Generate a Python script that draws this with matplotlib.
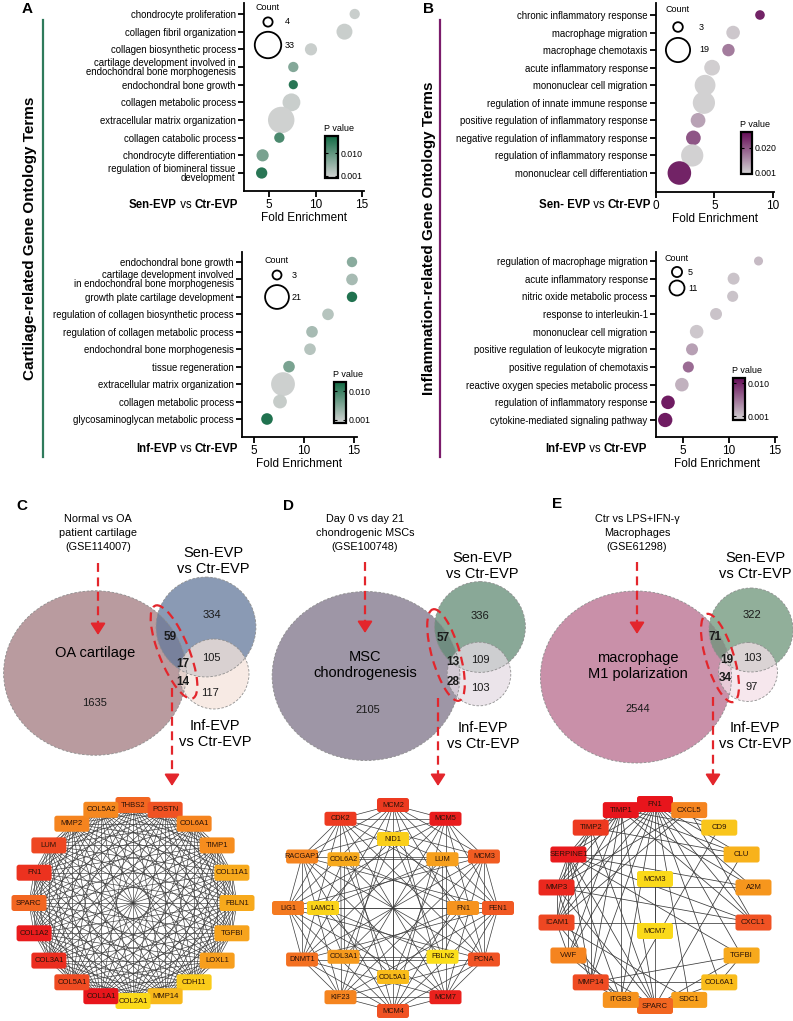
import itertools
import numpy as np
import matplotlib
matplotlib.use("Agg")
import matplotlib.pyplot as plt
from matplotlib.colors import LinearSegmentedColormap, Normalize
from matplotlib.cm import ScalarMappable
from matplotlib.patches import Ellipse, FancyBboxPatch
from matplotlib.collections import LineCollection

plt.rcParams["font.family"] = ["Liberation Sans", "DejaVu Sans"]

W, H = 793, 1021

# ---------------- GO enrichment (bubble) data ----------------
a_sen_terms = ["chondrocyte proliferation", "collagen fibril organization",
               "collagen biosynthetic process",
               "cartilage development involved in\nendochondral bone morphogenesis",
               "endochondral bone growth", "collagen metabolic process",
               "extracellular matrix organization", "collagen catabolic process",
               "chondrocyte differentiation",
               "regulation of biomineral tissue\ndevelopment"]
a_sen_fold = [14.2, 13.1, 9.5, 7.6, 7.6, 7.4, 6.3, 6.1, 4.3, 4.2]
a_sen_count = [5, 12, 7, 5, 4, 15, 33, 5, 7, 6]
a_sen_p = [0.001, 0.001, 0.001, 0.007, 0.015, 0.001, 0.0005, 0.012, 0.008, 0.015]
a_sen_key = [4, 33]

a_inf_terms = ["endochondral bone growth",
               "cartilage development involved\nin endochondral bone morphogenesis",
               "growth plate cartilage development",
               "regulation of collagen biosynthetic process",
               "regulation of collagen metabolic process",
               "endochondral bone morphogenesis", "tissue regeneration",
               "extracellular matrix organization", "collagen metabolic process",
               "glycosaminoglycan metabolic process"]
a_inf_fold = [14.8, 14.8, 14.8, 12.4, 10.8, 10.6, 8.5, 7.9, 7.6, 6.3]
a_inf_count = [4, 5, 4, 5, 5, 5, 5, 21, 7, 5]
a_inf_p = [0.005, 0.003, 0.012, 0.002, 0.003, 0.002, 0.006, 0.0005, 0.001, 0.012]
a_inf_key = [3, 21]

b_sen_terms = ["chronic inflammatory response", "macrophage migration",
               "macrophage chemotaxis", "acute inflammatory response",
               "mononuclear cell migration", "regulation of innate immune response",
               "positive regulation of inflammatory response",
               "negative regulation of inflammatory response",
               "regulation of inflammatory response", "mononuclear cell differentiation"]
b_sen_fold = [8.9, 6.6, 6.2, 4.8, 4.2, 4.1, 3.6, 3.2, 3.1, 2.0]
b_sen_count = [3, 6, 5, 8, 14, 16, 7, 7, 16, 18]
b_sen_p = [0.028, 0.002, 0.014, 0.001, 0.0005, 0.0005, 0.008, 0.02, 0.0005, 0.028]
b_sen_key = [3, 19]

b_inf_terms = ["regulation of macrophage migration", "acute inflammatory response",
               "nitric oxide metabolic process", "response to interleukin-1",
               "mononuclear cell migration", "positive regulation of leukocyte migration",
               "positive regulation of chemotaxis",
               "reactive oxygen species metabolic process",
               "regulation of inflammatory response", "cytokine-mediated signaling pathway"]
b_inf_fold = [13.2, 10.5, 10.4, 8.6, 6.5, 6.0, 5.6, 4.9, 3.4, 3.1]
b_inf_count = [4, 7, 6, 7, 9, 7, 6, 9, 9, 10]
b_inf_p = [0.0015, 0.001, 0.001, 0.001, 0.0008, 0.003, 0.006, 0.002, 0.0105, 0.0105]
b_inf_key = [5, 11]

# ---------------- Venn counts ----------------
# order: big only, Sen only, Inf only, big&Sen, Sen&Inf, big&Inf, all three
c_venn = [1635, 334, 117, 59, 105, 14, 17]
d_venn = [2105, 336, 103, 57, 109, 28, 13]
e_venn = [2544, 322, 97, 71, 103, 34, 19]

# ---------------- PPI networks ----------------
c_nodes = ["THBS2", "POSTN", "COL6A1", "TIMP1", "COL11A1", "FBLN1", "TGFBI", "LOXL1",
           "CDH11", "MMP14", "COL2A1", "COL1A1", "COL5A1", "COL3A1", "COL1A2", "SPARC",
           "FN1", "LUM", "MMP2", "COL5A2"]
c_score = [0.65, 0.75, 0.5, 0.45, 0.3, 0.3, 0.33, 0.36, 0.12, 0.22, 0.05, 1.0, 0.78,
           0.9, 0.97, 0.65, 0.88, 0.8, 0.5, 0.48]

d_outer = ["MCM2", "MCM5", "MCM3", "FEN1", "PCNA", "MCM7", "MCM4", "KIF23", "DNMT1",
           "LIG1", "RACGAP1", "CDK2"]
d_outer_score = [0.85, 0.97, 0.7, 0.72, 0.75, 0.95, 0.75, 0.5, 0.6, 0.55, 0.5, 0.85]
d_inner = ["NID1", "LUM", "FN1", "FBLN2", "COL5A1", "COL3A1", "LAMC1", "COL6A2"]
d_inner_score = [0.1, 0.35, 0.42, 0.02, 0.2, 0.38, 0.08, 0.3]

e_ring = ["FN1", "CXCL5", "CD9", "CLU", "A2M", "CXCL1", "TGFBI", "COL6A1", "SDC1",
          "SPARC", "ITGB3", "MMP14", "VWF", "ICAM1", "MMP3", "SERPINE1", "TIMP2", "TIMP1"]
e_ring_score = [1.0, 0.5, 0.15, 0.25, 0.4, 0.75, 0.3, 0.2, 0.35, 0.65, 0.42, 0.78,
                0.5, 0.8, 0.92, 0.98, 0.85, 1.0]
e_center = ["MCM3", "MCM7"]
e_center_score = [0.05, 0.05]
e_edges = [("FN1", n) for n in ["CXCL5", "TIMP1", "TIMP2", "SERPINE1", "MMP3", "ICAM1", "VWF",
                                "MMP14", "ITGB3", "SPARC", "SDC1", "COL6A1", "TGFBI",
                                "CXCL1", "A2M", "CLU", "CD9"]] + \
          [("TIMP1", n) for n in ["TIMP2", "SERPINE1", "MMP3", "ICAM1", "VWF", "MMP14",
                                  "ITGB3", "SPARC", "CXCL1", "A2M", "CLU", "CD9", "CXCL5"]] + \
          [("SERPINE1", n) for n in ["TIMP2", "MMP3", "ICAM1", "VWF", "MMP14", "ITGB3",
                                     "SPARC", "CXCL1", "A2M", "CLU", "TGFBI"]] + \
          [("MMP3", n) for n in ["TIMP2", "ICAM1", "MMP14", "CXCL1", "SPARC", "CXCL5", "A2M"]] + \
          [("TIMP2", n) for n in ["MMP14", "SPARC", "ICAM1", "CLU"]] + \
          [("ICAM1", n) for n in ["VWF", "ITGB3", "CXCL1", "CXCL5", "SDC1"]] + \
          [("MMP14", n) for n in ["ITGB3", "SPARC", "COL6A1", "TGFBI"]] + \
          [("VWF", "ITGB3"), ("VWF", "SPARC"), ("SPARC", "COL6A1"), ("SPARC", "TGFBI"),
           ("SPARC", "SDC1"), ("SPARC", "ITGB3"), ("SPARC", "CLU"), ("ITGB3", "SDC1"),
           ("ITGB3", "CD9"), ("CXCL1", "CXCL5"), ("TGFBI", "COL6A1"), ("MCM3", "MCM7")]

# ---------------- figure ----------------
fig = plt.figure(figsize=(W / 100, H / 100), dpi=100)
ov = fig.add_axes([0, 0, 1, 1])
ov.set_xlim(0, W)
ov.set_ylim(H, 0)
ov.axis("off")


def px_axes(l, t, r, b):
    return fig.add_axes([l / W, 1 - b / H, (r - l) / W, (b - t) / H])


green = LinearSegmentedColormap.from_list("gr", ["#d4d4d4", "#126a44"])
purple = LinearSegmentedColormap.from_list("pu", ["#d4d4d4", "#650b57"])


def bubble(box, rows_px, xlim, xticks, terms, fold, count, pval, cmap, vmax, k):
    l, t, r, b = box
    first, last = rows_px
    n = len(terms)
    step = (last - first) / (n - 1)
    ax = px_axes(l, t, r, b)
    ax.patch.set_alpha(0)
    y = np.arange(n)
    ax.scatter(fold, y, s=np.asarray(count) * k, c=pval, cmap=cmap,
               norm=Normalize(0, vmax), edgecolors="none", zorder=3, clip_on=False)
    ax.set_ylim(n - 1 + (b - last) / step, -(first - t) / step)
    ax.set_xlim(*xlim)
    ax.set_xticks(xticks)
    ax.set_yticks(y, terms)
    for s in ("top", "right"):
        ax.spines[s].set_visible(False)
    for s in ("left", "bottom"):
        ax.spines[s].set_linewidth(1.3)
    ax.tick_params(axis="y", length=4, width=1.3, labelsize=6.9, pad=2)
    ax.tick_params(axis="x", length=4, width=1.3, labelsize=8.5, pad=1.5)
    for lab in ax.get_yticklabels():
        lab.set_linespacing(0.85)
    ax.set_xlabel("Fold Enrichment", fontsize=8.5, labelpad=1)
    return ax


def pbar(box, cmap, vmax, ticks):
    cax = px_axes(*box)
    cb = fig.colorbar(ScalarMappable(Normalize(0, vmax), cmap), cax=cax, ticks=ticks)
    cb.ax.set_yticklabels([f"{v:.3f}" for v in ticks])
    cb.outline.set_linewidth(1.6)
    cax.tick_params(direction="in", length=2.5, width=0.8, left=True, right=True,
                    labelsize=6.3, pad=2)
    ov.text(box[0] - 1, box[1] - 3, "P value", fontsize=6.5, ha="left", va="bottom")


def count_key(x, y_title, ys, vals, k, xnum):
    ov.text(x, y_title, "Count", fontsize=6.5, ha="center", va="center")
    ov.scatter([x] * len(vals), ys, s=np.asarray(vals) * k, facecolors="white",
               edgecolors="black", linewidths=1.3, zorder=5)
    for yy, v in zip(ys, vals):
        ov.text(xnum, yy, str(v), fontsize=6.5, va="center", ha="left")


def pair_label(x, y, parts, fs=8.3):
    prev = None
    for txt, weight in reversed(parts):
        if prev is None:
            prev = ov.text(x, y, txt, ha="right", va="center", fontsize=fs, fontweight=weight)
        else:
            prev = ov.annotate(txt, xy=(0, 0.5), xycoords=prev, ha="right", va="center",
                               fontsize=fs, fontweight=weight)


# A top / bottom
bubble((244, 3, 364, 191), (14, 173), (2.3, 15.2), [5, 10, 15],
       a_sen_terms, a_sen_fold, a_sen_count, a_sen_p, green, 0.017, 11)
bubble((242, 252, 357, 437), (262, 419), (3.8, 15.3), [5, 10, 15],
       a_inf_terms, a_inf_fold, a_inf_count, a_inf_p, green, 0.013, 14)
# B top / bottom
bubble((656, 3, 774, 192), (15, 173), (0, 10.1), [0, 5, 10],
       b_sen_terms, b_sen_fold, b_sen_count, b_sen_p, purple, 0.032, 16)
bubble((656, 252, 777, 437), (261, 420), (2.1, 15.2), [5, 10, 15],
       b_inf_terms, b_inf_fold, b_inf_count, b_inf_p, purple, 0.0115, 10.6)

pbar((325, 136, 338, 178), green, 0.017, [0.001, 0.010])
pbar((334, 382, 346, 423), green, 0.013, [0.001, 0.010])
pbar((741, 132, 752, 174), purple, 0.032, [0.001, 0.020])
pbar((733, 378, 745, 420), purple, 0.0115, [0.001, 0.010])

count_key(268, 8, [22, 45], a_sen_key, 11, 285)
count_key(277, 260, [275, 297], a_inf_key, 14, 292)
count_key(678, 9, [27, 50], b_sen_key, 16, 699)
count_key(677, 258, [272, 288], b_inf_key, 10.6, 688)

pair_label(238, 205, [("Sen-EVP", "bold"), (" vs ", "normal"), ("Ctr-EVP", "bold")])
pair_label(238, 449, [("Inf-EVP", "bold"), (" vs ", "normal"), ("Ctr-EVP", "bold")])
pair_label(651, 205, [("Sen- EVP", "bold"), (" vs ", "normal"), ("Ctr-EVP", "bold")])
pair_label(647, 449, [("Inf-EVP", "bold"), (" vs ", "normal"), ("Ctr-EVP", "bold")])

# side titles and bars
ov.text(30, 238, "Cartilage-related Gene Ontology Terms", rotation=90, fontsize=11,
        fontweight="bold", ha="center", va="center")
ov.plot([43, 43], [20, 457], color="#2f7b5c", lw=1.6)
ov.text(429, 238, "Inflammation-related Gene Ontology Terms", rotation=90, fontsize=11,
        fontweight="bold", ha="center", va="center")
ov.plot([440, 440], [20, 457], color="#7b1c6b", lw=1.6)

for letter, (x, y) in {"A": (27, 9), "B": (428, 9), "C": (22, 506),
                       "D": (288, 506), "E": (557, 504)}.items():
    ov.text(x, y, letter, fontsize=11, fontweight="bold", ha="center", va="center")

# ---------------- Venn panels ----------------
red = "#e3262c"


def dashed_arrow(x, y0, y1):
    ov.plot([x, x], [y0, y1 - 6], color=red, lw=1.6, ls=(0, (4, 2.5)), zorder=6)
    ov.annotate("", xy=(x, y1), xytext=(x, y1 - 7),
                arrowprops=dict(arrowstyle="-|>,head_length=0.7,head_width=0.45",
                                color=red, lw=1.4, shrinkA=0, shrinkB=0,
                                mutation_scale=10), zorder=6)


def venn(counts, k, centers, fills, num_pos, ell, title, big_label, big_xy, sen_xy, inf_xy):
    big_only, sen_only, inf_only, b_s, s_i, b_i, allc = counts
    totals = [big_only + b_s + b_i + allc, sen_only + b_s + s_i + allc,
              inf_only + s_i + b_i + allc]
    for i, (tot, c, fc) in enumerate(zip(totals, centers, fills)):
        r = k * np.sqrt(tot)
        h = 2 * r * (0.9 if i == 0 else 1.0)
        ov.add_patch(Ellipse(c, 2 * r, h, facecolor=fc, alpha=1.0 if i == 0 else 0.75,
                             edgecolor="none", zorder=2 + i))
        ov.add_patch(Ellipse(c, 2 * r, h, facecolor="none", edgecolor="#8e8e8e", lw=0.6,
                             ls=(0, (3, 2)), zorder=5))
    bold = [False, False, False, True, False, True, True]
    for v, (x, y), bd in zip(counts, num_pos, bold):
        ov.text(x, y, str(v), fontsize=8.5 if bd else 8, fontweight="bold" if bd else "normal",
                ha="center", va="center", color="#1a1a1a", zorder=7)
    (ex, ey), ew, eh, ea = ell
    ov.add_patch(Ellipse((ex, ey), ew, eh, angle=ea, facecolor="none", edgecolor=red,
                         lw=1.6, ls=(0, (4, 2.5)), zorder=6))
    tx = centers[0][0] + title[1]
    ov.text(tx, 533, title[0], fontsize=7.8, ha="center", va="center", linespacing=1.55)
    ov.text(big_xy[0], big_xy[1], big_label, fontsize=10.5, ha="center", va="center",
            linespacing=1.15, zorder=7)
    ov.text(sen_xy[0], sen_xy[1], "Sen-EVP\nvs Ctr-EVP", fontsize=10.5, ha="center",
            va="center", linespacing=1.1)
    ov.text(inf_xy[0], inf_xy[1], "Inf-EVP\nvs Ctr-EVP", fontsize=10.5, ha="center",
            va="center", linespacing=1.1)


venn(c_venn, 2.2, [(95, 673), (206, 627), (214, 674)],
     ["#b99b9f", "#63799b", "#f5e4db"],
     [(95, 703), (212, 615), (210, 693), (170, 637), (211, 658), (183, 682), (183, 664)],
     ((174, 652), 30, 100, -22), ("Normal vs OA\npatient cartilage\n(GSE114007)", 3),
     "OA cartilage", (95, 653), (213, 561), (215, 734))
dashed_arrow(98, 563, 635)
dashed_arrow(172, 688, 786)

venn(d_venn, 2.0, [(366, 676), (480, 627), (479, 674)],
     ["#9e96a6", "#618b75", "#e5dbe4"],
     [(368, 710), (480, 616), (480, 688), (443, 638), (480, 660), (453, 682), (453, 662)],
     ((446, 655), 28, 95, -16), ("Day 0 vs day 21\nchondrogenic MSCs\n(GSE100748)", -1),
     "MSC\nchondrogenesis", (365, 665), (482, 566), (483, 736))
dashed_arrow(365, 562, 633)
dashed_arrow(438, 698, 786)

venn(e_venn, 1.85, [(636, 677), (751, 630), (748, 672)],
     ["#c990a9", "#6c9579", "#f3e0e8"],
     [(638, 709), (752, 615), (752, 687), (715, 637), (752, 658), (725, 678), (727, 660)],
     ((720, 658), 28, 92, -17), ("Ctr vs LPS+IFN-γ\nMacrophages\n(GSE61298)", 1),
     "macrophage\nM1 polarization", (638, 666), (755, 566), (755, 736))
dashed_arrow(637, 562, 634)
dashed_arrow(713, 697, 786)

# ---------------- networks ----------------
net_cmap = LinearSegmentedColormap.from_list(
    "net", ["#fbe21a", "#f8b21b", "#f5841f", "#f05323", "#e8151c"])


def network(cx, cy, rings, edges, box_w, box_h, lw, fs):
    pos, score = {}, {}
    for names, scores, rx, ry in rings:
        ang = np.deg2rad(90 - 360 * np.arange(len(names)) / len(names))
        for n, s, a in zip(names, scores, ang):
            pos[n] = (cx + rx * np.cos(a), cy - ry * np.sin(a))
            score[n] = s
    segs = [[pos[a], pos[b]] for a, b in edges]
    ov.add_collection(LineCollection(segs, colors="#3a3a3a", linewidths=lw, zorder=2))
    for n, (x, y) in pos.items():
        ov.add_patch(FancyBboxPatch((x - box_w / 2, y - box_h / 2), box_w, box_h,
                                    boxstyle="round,pad=0,rounding_size=2.5",
                                    facecolor=net_cmap(score[n]), edgecolor="none", zorder=3))
        ov.text(x, y, n, fontsize=fs, ha="center", va="center", color="#2a1208", zorder=4)


network(133, 903, [(c_nodes, c_score, 104, 98)],
        list(itertools.combinations(c_nodes, 2)), 35, 16, 0.45, 5.5)
network(393, 908, [(d_outer, d_outer_score, 105, 103), (d_inner, d_inner_score, 70, 69)],
        list(itertools.combinations(d_outer, 2)) + list(itertools.combinations(d_inner, 2)),
        32, 14, 0.5, 5.3)
network(655, 905, [(e_ring, e_ring_score, 100, 101), (e_center, e_center_score, 0, 26)],
        e_edges, 36, 16, 0.55, 5.6)

fig.savefig("out.png", dpi=100)
